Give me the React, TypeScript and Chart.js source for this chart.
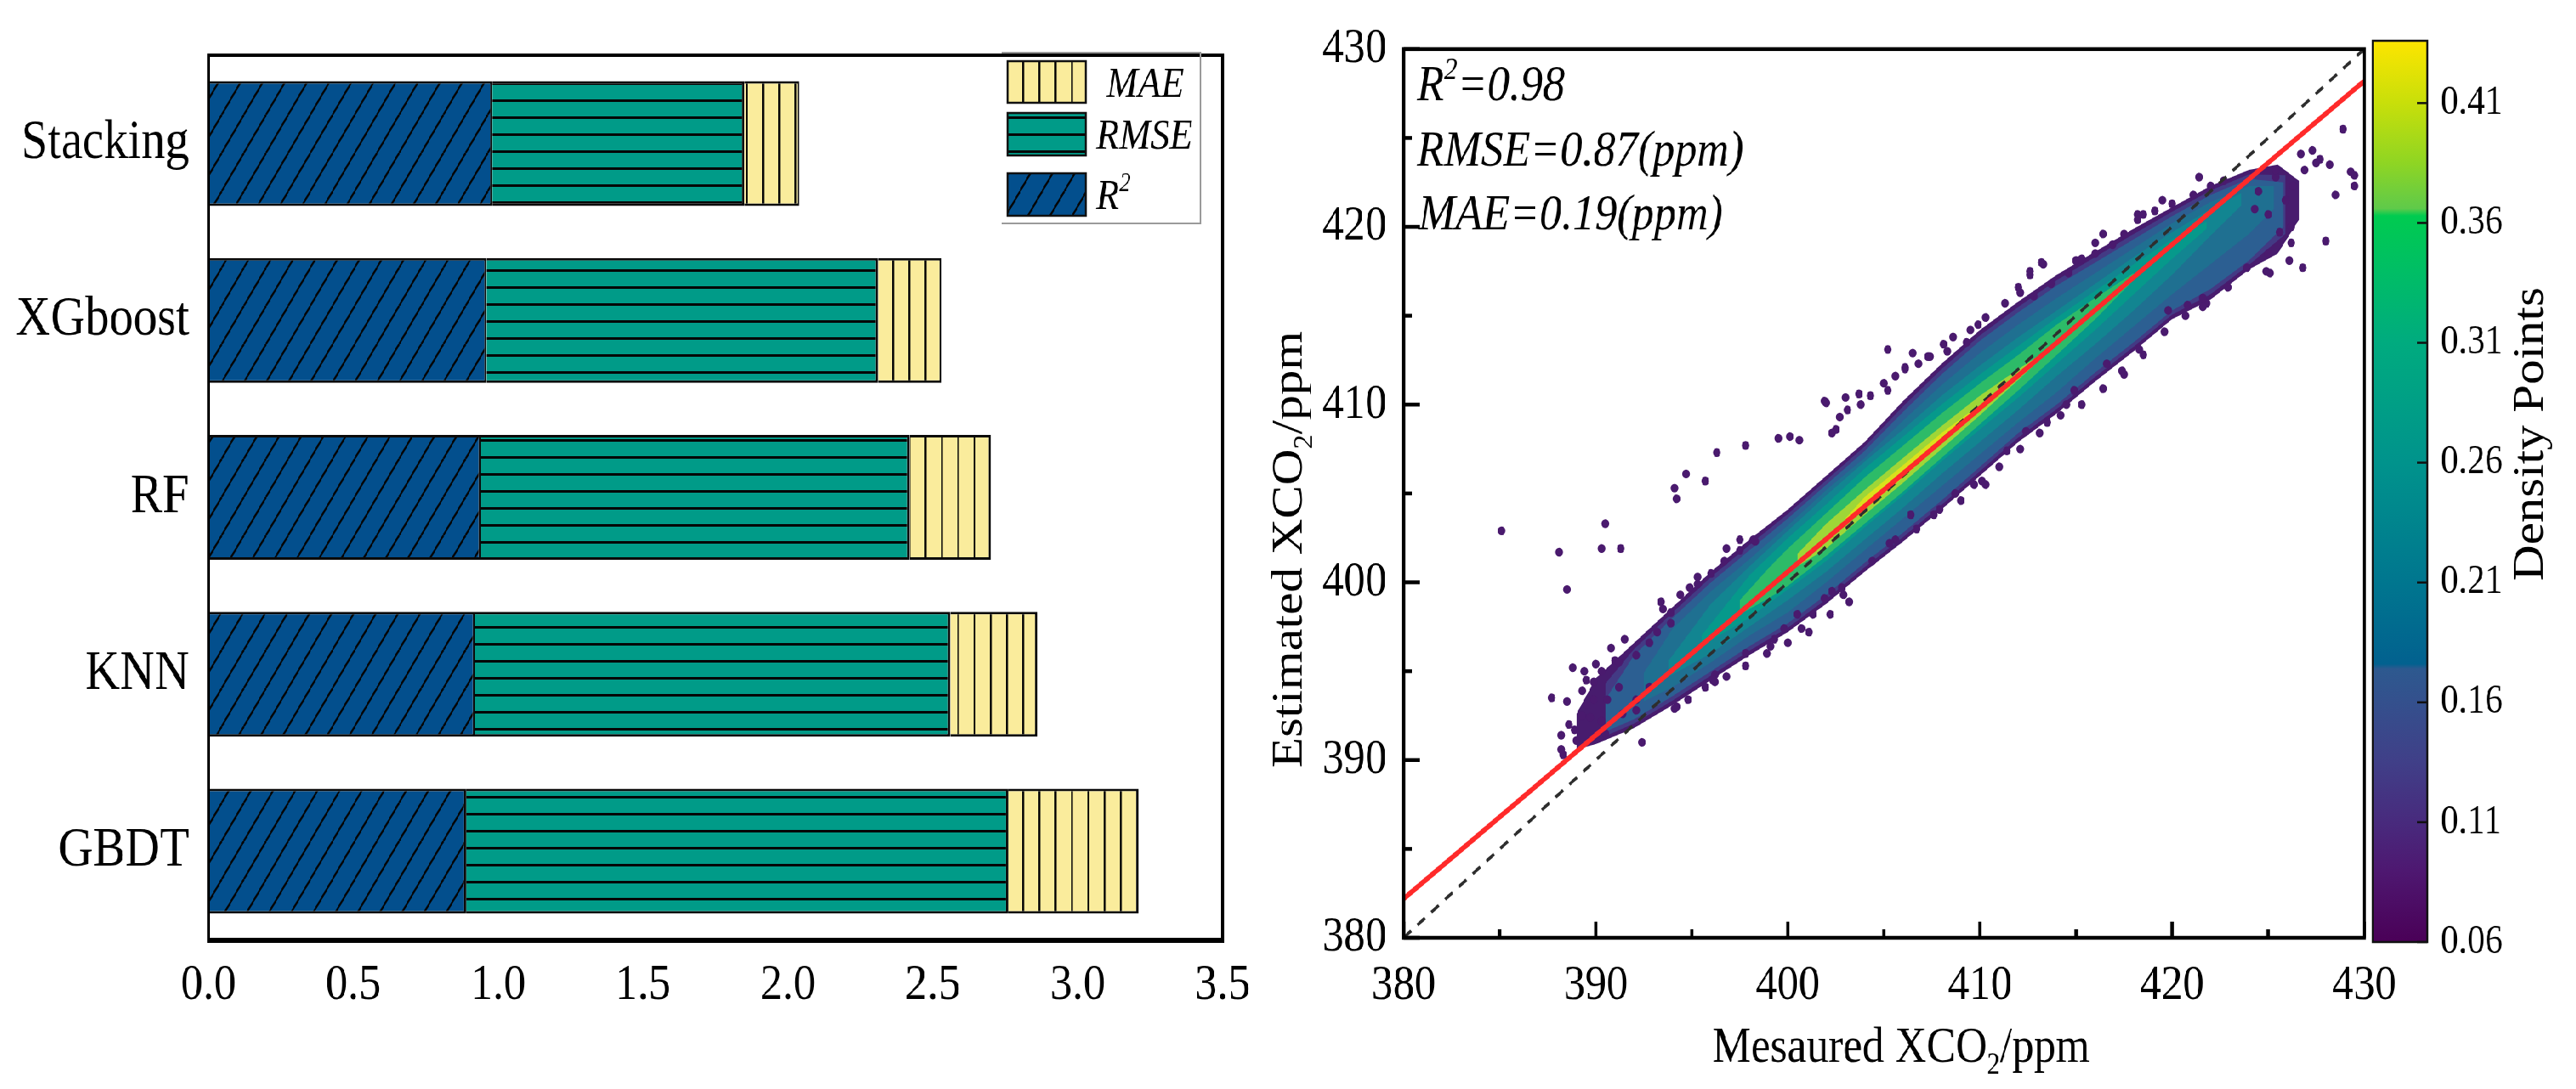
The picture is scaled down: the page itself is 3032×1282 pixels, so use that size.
import React, { useEffect, useRef } from 'react';
import { Chart, registerables } from 'chart.js';

Chart.register(...registerables);

// ---------------- data : left panel ----------------
const models = ['Stacking', 'XGboost', 'RF', 'KNN', 'GBDT'];
const r2Values = [0.98, 0.96, 0.94, 0.92, 0.89];
const rmseValues = [0.87, 1.35, 1.48, 1.64, 1.87];
const maeValues = [0.19, 0.22, 0.28, 0.3, 0.45];
const barAxisTicks = [0, 0.5, 1.0, 1.5, 2.0, 2.5, 3.0, 3.5];

// ---------------- data : right panel ----------------
const xco2MajorTicks = [380, 390, 400, 410, 420, 430];
const xco2MinorTicks = [385, 395, 405, 415, 425];
const fitLine = [[380, 382.2], [430, 428.2]];
const identityLine = [[380, 380], [430, 430]];
const statR2 = '0.98';
const statRMSE = '0.87';
const statMAE = '0.19';

// density contour bands: [measured x, upper estimated y, lower estimated y]
const bandPurple = [
  [389.0, 392.6, 390.6], [390, 394.6, 390.9], [392, 396.6, 391.8], [394, 398.6, 393.1],
  [396, 400.6, 394.5], [398, 402.4, 395.9], [400, 404.1, 397.2], [402, 406.0, 398.8],
  [404, 407.9, 400.6], [406, 410.2, 402.3], [408, 412.3, 404.1], [410, 414.2, 406.0],
  [412, 415.8, 407.9], [414, 417.3, 409.5], [416, 418.6, 411.3], [418, 419.9, 413.0],
  [420, 421.1, 414.8], [422, 422.3, 415.9], [424, 423.2, 417.6], [425.5, 423.5, 418.5],
  [426.6, 422.6, 420.4],
];
const bandIndigo = [
  [390.5, 394.3, 391.35], [392, 396.25, 392.05], [394, 398.3, 393.35], [396, 400.3, 394.75],
  [398, 402.1, 396.15], [400, 403.85, 397.45], [402, 405.75, 399.05], [404, 407.65, 400.85],
  [406, 409.9, 402.55], [408, 412.0, 404.35], [410, 413.9, 406.25], [412, 415.5, 408.15],
  [414, 417.0, 409.75], [416, 418.3, 411.55], [418, 419.6, 413.25], [420, 420.85, 415.05],
  [422, 422.05, 416.2], [424, 422.95, 417.85], [425.9, 422.9, 419.6],
];
const bandBlue = [
  [390.5, 393.4, 391.6], [392, 395.9, 392.3], [394, 398.0, 393.6], [396, 400.0, 395.0],
  [398, 401.8, 396.4], [400, 403.6, 397.7], [402, 405.5, 399.3], [404, 407.4, 401.1],
  [406, 409.6, 402.8], [408, 411.7, 404.6], [410, 413.6, 406.5], [412, 415.2, 408.4],
  [414, 416.7, 410.0], [416, 418.0, 411.8], [418, 419.3, 413.5], [420, 420.6, 415.3],
  [422, 421.8, 416.5], [424, 422.7, 418.1], [425.8, 422.5, 420.0],
];
const bandBlueTeal = [
  [392.5, 394.9, 393.3], [394, 397.4, 394.1], [396, 399.5, 395.5], [398, 401.3, 397.0],
  [400, 403.2, 398.3], [402, 405.2, 400.0], [404, 407.0, 401.8], [406, 409.1, 403.6],
  [408, 411.1, 405.4], [410, 412.9, 407.2], [412, 414.5, 409.0], [414, 416.0, 410.7],
  [416, 417.4, 412.6], [418, 418.8, 414.4], [420, 420.2, 416.2], [422, 421.4, 417.9],
  [424, 422.3, 419.6], [425.3, 422.3, 421.0],
];
const bandTealBlue = [
  [393.8, 395.6, 394.7], [396, 398.8, 396.0], [398, 400.9, 397.5], [400, 402.9, 399.0],
  [402, 404.9, 400.6], [404, 406.8, 402.4], [406, 408.6, 404.2], [408, 410.5, 406.1],
  [410, 412.2, 407.9], [412, 413.8, 409.7], [414, 415.3, 411.6], [416, 416.8, 413.4],
  [418, 418.3, 415.3], [420, 419.7, 417.3], [422, 421.0, 419.5], [423.6, 421.9, 421.2],
];
const bandTeal = [
  [395.5, 397.0, 396.4], [398, 400.4, 398.0], [400, 402.5, 399.6], [402, 404.4, 401.2],
  [404, 406.4, 403.1], [406, 408.2, 404.9], [408, 410.0, 406.8], [410, 411.7, 408.6],
  [412, 413.3, 410.4], [414, 414.9, 412.3], [416, 416.4, 414.2], [418, 417.9, 416.2],
  [420, 419.3, 418.2], [421.8, 420.3, 419.9],
];
const bandGreen = [
  [397.5, 399.0, 398.2], [399, 400.8, 399.1], [400, 401.9, 399.8], [402, 403.9, 401.5],
  [404, 405.9, 403.3], [406, 407.7, 405.1], [408, 409.5, 407.0], [410, 411.2, 408.9],
  [412, 412.8, 410.8], [414, 414.5, 412.8], [416, 416.0, 414.8], [418, 417.4, 417.0],
];
const bandYellowGreen = [
  [400.5, 401.6, 400.9], [402, 403.3, 401.9], [404, 405.2, 403.8], [406, 407.0, 405.6],
  [408, 408.8, 407.5], [410, 410.5, 409.4], [412, 412.0, 411.4], [413, 412.7, 412.4],
];
const bandYellow = [
  [403, 403.6, 403.3], [404, 404.8, 404.1], [406, 406.6, 405.9], [408, 408.4, 407.8],
  [409.5, 409.6, 409.3],
];

// isolated / fringe low-density points [measured, estimated]
const outlierPoints = [
  [385.1, 402.9], [388.1, 401.7], [388.5, 399.6], [390.3, 401.9], [391.3, 401.9], [390.5, 403.3],
  [387.7, 393.5], [388.3, 390.3], [388.2, 391.4], [388.8, 395.2], [389.3, 393.9], [388.5, 393.3],
  [388.6, 392.0], [388.9, 391.7], [389.0, 391.1], [389.3, 392.5], [389.9, 393.4], [389.7, 392.4],
  [390.5, 391.5], [391.0, 395.6], [389.9, 394.4], [391.5, 396.8], [388.2, 390.6], [390.0, 395.4],
  [389.4, 395.0], [390.8, 396.3],
  [389.5, 394.5], [390.3, 395.0], [391.2, 395.5], [392.1, 395.9], [392.8, 396.6], [393.2, 397.2],
  [393.9, 397.7], [392.1, 393.4], [392.8, 394.1], [391.2, 394.1], [390.6, 393.4], [389.5, 393.1],
  [390.3, 392.2], [391.4, 392.6], [392.1, 392.8],
  [394.8, 393.4], [395.7, 394.1], [396.8, 394.7], [397.8, 395.3], [398.9, 396.0], [400.0, 396.6],
  [401.1, 397.2], [402.2, 398.2], [403.2, 398.9],
  [393.5, 398.5], [394.4, 399.3], [395.3, 399.9], [396.0, 400.5], [396.7, 401.2], [397.5, 401.8],
  [398.2, 402.4],
  [393.4, 398.9], [393.9, 398.3], [394.9, 399.7], [395.3, 400.3], [396.8, 401.9], [397.5, 402.4],
  [398.3, 402.3], [394.1, 405.3], [394.2, 404.7], [394.7, 406.1], [395.7, 405.7], [396.3, 407.3],
  [397.8, 407.7], [399.5, 408.1], [400.1, 408.2], [400.6, 408.0], [401.9, 410.2], [403.0, 410.4],
  [402.0, 410.1], [402.5, 408.6], [403.7, 410.6], [405.0, 411.2], [405.2, 413.1], [406.5, 412.9],
  [407.3, 412.7], [406.1, 412.1], [408.1, 413.4], [408.6, 413.8], [409.9, 414.5], [410.3, 414.9],
  [412.0, 416.6], [412.6, 417.3], [413.3, 417.9], [412.6, 417.5], [413.2, 418.0], [415.0, 418.1],
  [416.0, 419.1], [416.4, 419.6], [418.2, 420.7], [418.5, 420.7], [419.5, 421.5], [421.4, 422.8],
  [409.5, 414.2], [409.3, 413.5], [408.3, 413.0], [407.4, 412.7], [406.8, 412.3], [406.1, 412.0],
  [405.6, 411.6], [405.2, 410.8], [404.3, 410.5], [403.8, 410.0], [403.1, 409.7], [402.7, 409.3],
  [402.3, 408.4], [411.3, 415.7], [412.1, 416.3], [412.8, 416.1], [413.7, 416.8], [414.6, 417.4],
  [415.3, 418.2], [416.0, 418.5], [416.9, 419.0], [417.5, 419.6], [418.2, 420.4], [419.1, 420.9],
  [420.0, 421.3], [421.1, 421.8], [422.0, 422.3], [422.7, 422.6],
  [426.9, 423.2], [426.7, 424.1], [427.3, 424.3], [427.5, 423.6], [428.2, 423.5], [427.7, 423.8],
  [428.9, 425.5], [429.3, 423.1], [429.5, 422.3], [429.5, 422.9], [428.5, 421.8], [426.2, 420.0],
  [425.6, 419.7], [428.0, 419.2], [426.2, 419.1], [426.8, 417.7], [426.1, 418.1], [425.1, 417.4],
  [424.9, 417.5], [424.5, 422.0], [425.4, 422.8], [425.9, 421.5], [425.0, 420.7], [426.3, 422.3],
  [425.4, 423.2], [424.3, 421.0],
  [405.6, 402.4], [406.7, 403.0], [407.9, 404.1], [409.0, 404.6], [410.1, 405.7], [411.0, 406.5],
  [412.1, 407.5], [413.1, 408.4], [414.2, 409.4], [415.3, 410.0], [416.4, 410.9], [417.5, 411.7],
  [418.5, 412.8], [419.6, 414.1], [420.7, 415.0], [421.8, 415.7], [422.9, 416.6], [423.9, 417.7],
  [425.0, 418.5],
  [421.6, 415.5], [421.6, 416.0], [420.8, 415.6], [419.8, 415.3], [418.3, 413.1], [417.4, 411.9],
  [416.6, 412.3], [414.9, 410.8], [414.5, 410.0], [413.5, 409.0], [412.4, 408.5], [411.4, 407.4],
  [410.3, 405.5], [409.7, 405.5], [408.7, 405.0], [407.6, 403.8], [406.4, 403.8], [405.3, 402.2],
  [404.4, 401.2], [402.8, 399.7], [402.9, 399.3], [402.3, 399.5], [401.9, 399.1], [401.3, 398.2],
  [400.5, 398.2], [400.7, 397.4], [399.8, 397.4], [399.3, 396.8], [399.1, 396.4], [397.8, 396.0],
  [396.2, 394.4], [396.2, 394.8], [396.1, 394.5], [394.2, 393.0], [394.1, 392.9], [392.4, 391.0],
];

// colour bar
const colorbarTicks = [0.06, 0.11, 0.16, 0.21, 0.26, 0.31, 0.36, 0.41];
const colorbarMin = 0.06;
const colorbarMax = 0.436;
const colorbarStopValues = [0.06, 0.09, 0.11, 0.135, 0.16, 0.174, 0.176, 0.21, 0.26, 0.31, 0.34, 0.363, 0.366, 0.385, 0.41, 0.436];
const colorbarStopColors = ['#4a0057', '#4e1871', '#482a7d', '#403f88', '#34508d', '#2d598f', '#02618f', '#00768f', '#00938c', '#00ab7f', '#00be65', '#00cb50', '#5fca4a', '#8fd523', '#c8df0a', '#fde500'];

// ---------------- styles ----------------
const SQ = 0.87; // horizontal compression of the whole figure
const FONT = "'Liberation Serif', 'Times New Roman', Times, serif";
const COLOR_R2 = '#034f8d';
const COLOR_RMSE = '#009b88';
const COLOR_MAE = '#faec9c';
const densityBands = [bandYellow, bandYellowGreen, bandGreen, bandTeal, bandTealBlue, bandBlueTeal, bandBlue, bandIndigo, bandPurple];
const densityBandColors = ['#d9e11c', '#9ed637', '#2dbb68', '#06998b', '#128591', '#1f7091', '#2c5f92', '#433a84', '#481c6e'];

type Part = { t: string; sub?: boolean; sup?: boolean };

function drawRich(ctx: any, parts: Part[], x: number, y: number, size: number, italic: boolean, align: 'left' | 'center' = 'left') {
  const fontFor = (p: Part) => `${italic ? 'italic ' : ''}${p.sub || p.sup ? Math.round(size * 0.6) : size}px ${FONT}`;
  ctx.textAlign = 'left';
  ctx.textBaseline = 'alphabetic';
  let total = 0;
  for (const p of parts) {
    ctx.font = fontFor(p);
    total += ctx.measureText(p.t).width;
  }
  let cx = align === 'center' ? x - total / 2 : x;
  for (const p of parts) {
    ctx.font = fontFor(p);
    const dy = p.sub ? size * 0.24 : p.sup ? -size * 0.42 : 0;
    ctx.fillText(p.t, cx, y + dy);
    cx += ctx.measureText(p.t).width;
  }
}

function makePattern(kind: string, bg: string): any {
  const c = document.createElement('canvas');
  const dims = kind === 'diag' ? [30, 45] : kind === 'horiz' ? [10, 20] : [22, 10];
  c.width = dims[0];
  c.height = dims[1];
  const g = c.getContext('2d');
  if (!g) return bg;
  g.fillStyle = bg;
  g.fillRect(0, 0, c.width, c.height);
  g.strokeStyle = '#050505';
  g.fillStyle = '#050505';
  if (kind === 'diag') {
    g.lineWidth = 2.4;
    for (const off of [-30, 0, 30]) {
      g.beginPath();
      g.moveTo(off, 45);
      g.lineTo(off + 30, 0);
      g.stroke();
    }
  } else if (kind === 'horiz') {
    g.fillRect(0, 17, c.width, 3);
  } else {
    g.fillRect(19, 0, 2.5, c.height);
  }
  return g.createPattern(c, 'repeat') || bg;
}

const toPolygon = (rows: number[][]) => [
  ...rows.map((r) => ({ x: r[0], y: r[1] })),
  ...rows.map((r) => ({ x: r[0], y: r[2] })).reverse(),
];

export default function App() {
  const barRef = useRef<HTMLCanvasElement>(null);
  const scatRef = useRef<HTMLCanvasElement>(null);
  const cbRef = useRef<HTMLCanvasElement>(null);

  useEffect(() => {
    const charts: Chart[] = [];
    const patR2 = makePattern('diag', COLOR_R2);
    const patRMSE = makePattern('horiz', COLOR_RMSE);
    const patMAE = makePattern('vert', COLOR_MAE);

    // ---------- left: stacked horizontal bars ----------
    const barDeco = {
      id: 'barDeco',
      afterDraw(chart: any) {
        const { ctx, chartArea: a } = chart;
        ctx.save();
        ctx.strokeStyle = '#000';
        ctx.lineWidth = 4;
        ctx.strokeRect(a.left, a.top, a.right - a.left, a.bottom - a.top);
        ctx.lineWidth = 6;
        ctx.beginPath();
        ctx.moveTo(a.left - 2, a.bottom + 1);
        ctx.lineTo(a.right + 2, a.bottom + 1);
        ctx.stroke();
        // legend
        ctx.strokeStyle = '#9a9a9a';
        ctx.lineWidth = 2;
        ctx.beginPath();
        ctx.moveTo(1355, 62);
        ctx.lineTo(1624, 62);
        ctx.lineTo(1624, 263);
        ctx.lineTo(1355, 263);
        ctx.stroke();
        const items = [
          { pat: patMAE, y0: 72, y1: 121, tx: 1497, parts: [{ t: 'MAE' }] as Part[] },
          { pat: patRMSE, y0: 133, y1: 183, tx: 1483, parts: [{ t: 'RMSE' }] as Part[] },
          { pat: patR2, y0: 204, y1: 254, tx: 1483, parts: [{ t: 'R' }, { t: '2', sup: true }] as Part[] },
        ];
        for (const it of items) {
          ctx.fillStyle = it.pat;
          ctx.fillRect(1363, it.y0, 106, it.y1 - it.y0);
          ctx.strokeStyle = '#111';
          ctx.lineWidth = 2.5;
          ctx.strokeRect(1363, it.y0, 106, it.y1 - it.y0);
          ctx.fillStyle = '#000';
          drawRich(ctx, it.parts, it.tx, (it.y0 + it.y1) / 2 + 17, 51, true);
        }
        ctx.restore();
      },
    };

    if (barRef.current) {
      const common = { borderColor: '#0a0a0a', borderWidth: 3, borderSkipped: 'start' as const };
      charts.push(
        new Chart(barRef.current, {
          type: 'bar',
          data: {
            labels: models,
            datasets: [
              { label: 'R²', data: r2Values, backgroundColor: patR2, ...common },
              { label: 'RMSE', data: rmseValues, backgroundColor: patRMSE, ...common },
              { label: 'MAE', data: maeValues, backgroundColor: patMAE, ...common },
            ],
          },
          options: {
            indexAxis: 'y',
            responsive: false,
            animation: false,
            devicePixelRatio: 1,
            events: [],
            layout: { padding: { top: 45, left: 0, right: 70, bottom: 46 } },
            datasets: { bar: { barPercentage: 0.706, categoryPercentage: 1 } },
            plugins: { legend: { display: false }, tooltip: { enabled: false } },
            scales: {
              x: {
                type: 'linear',
                stacked: true,
                min: 0,
                max: 3.5,
                afterBuildTicks: (s: any) => {
                  s.ticks = barAxisTicks.map((v) => ({ value: v }));
                },
                ticks: {
                  callback: (v: any) => Number(v).toFixed(1),
                  font: { family: FONT, size: 60 },
                  color: '#000',
                  padding: 18,
                  maxRotation: 0,
                  autoSkip: false,
                },
                grid: { display: false, drawTicks: false },
                border: { display: false },
                afterFit: (s: any) => {
                  s.height = 130;
                },
              },
              y: {
                stacked: true,
                ticks: { font: { family: FONT, size: 65 }, color: '#000', padding: 26 },
                grid: { display: false, drawTicks: false },
                border: { display: false },
                afterFit: (s: any) => {
                  s.width = 282;
                },
              },
            },
          } as any,
          plugins: [barDeco],
        })
      );
    }

    // ---------- right: density scatter ----------
    const scatterDeco = {
      id: 'scatterDeco',
      afterDraw(chart: any) {
        const { ctx, chartArea: a, scales } = chart;
        const xs = scales.x;
        const ys = scales.y;
        ctx.save();
        ctx.strokeStyle = '#000';
        ctx.lineWidth = 4.5;
        for (const v of xco2MajorTicks) {
          const px = xs.getPixelForValue(v);
          ctx.beginPath();
          ctx.moveTo(px, a.bottom);
          ctx.lineTo(px, a.bottom - 19);
          ctx.stroke();
          const py = ys.getPixelForValue(v);
          ctx.beginPath();
          ctx.moveTo(a.left, py);
          ctx.lineTo(a.left + 22, py);
          ctx.stroke();
        }
        for (const v of xco2MinorTicks) {
          const px = xs.getPixelForValue(v);
          ctx.beginPath();
          ctx.moveTo(px, a.bottom);
          ctx.lineTo(px, a.bottom - 10);
          ctx.stroke();
          const py = ys.getPixelForValue(v);
          ctx.beginPath();
          ctx.moveTo(a.left, py);
          ctx.lineTo(a.left + 11, py);
          ctx.stroke();
        }
        ctx.strokeRect(a.left, a.top, a.right - a.left, a.bottom - a.top);
        ctx.fillStyle = '#000';
        drawRich(ctx, [{ t: 'R' }, { t: '2', sup: true }, { t: '=' + statR2 }], a.left + 18, 118, 60, true);
        drawRich(ctx, [{ t: `RMSE=${statRMSE}(ppm)` }], a.left + 18, 195, 60, true);
        drawRich(ctx, [{ t: `MAE=${statMAE}(ppm)` }], a.left + 20, 270, 60, true);
        drawRich(ctx, [{ t: 'Mesaured XCO' }, { t: '2', sub: true }, { t: '/ppm' }], (a.left + a.right) / 2 + 23, 1250, 59, false, 'center');
        ctx.translate(83, 647);
        ctx.rotate(-Math.PI / 2);
        drawRich(ctx, [{ t: 'Estimated XCO' }, { t: '2', sub: true }, { t: '/ppm' }], 0, 0, 59, false, 'center');
        ctx.restore();
      },
    };

    if (scatRef.current) {
      const bandSets = densityBands.map((rows, i) => ({
        label: 'density' + i,
        data: toPolygon(rows),
        showLine: true,
        fill: 'shape',
        backgroundColor: densityBandColors[i],
        borderWidth: 0,
        pointRadius: 0,
        pointHoverRadius: 0,
      }));
      charts.push(
        new Chart(scatRef.current, {
          type: 'scatter',
          data: {
            datasets: [
              {
                label: 'fit',
                data: fitLine.map((p) => ({ x: p[0], y: p[1] })),
                showLine: true,
                borderColor: '#ff2a2a',
                borderWidth: 6,
                pointRadius: 0,
                fill: false,
              },
              {
                label: '1:1',
                data: identityLine.map((p) => ({ x: p[0], y: p[1] })),
                showLine: true,
                borderColor: '#2e2e2e',
                borderWidth: 3.8,
                borderDash: [13, 11],
                pointRadius: 0,
                fill: false,
              },
              {
                label: 'points',
                data: outlierPoints.map((p) => ({ x: p[0], y: p[1] })),
                showLine: false,
                pointRadius: 5.2,
                pointBorderWidth: 0,
                backgroundColor: '#4a1a6e',
              },
              ...bandSets,
            ],
          },
          options: {
            responsive: false,
            animation: false,
            devicePixelRatio: 1,
            events: [],
            layout: { padding: { top: 45, left: 0, right: 64, bottom: 48 } },
            plugins: { legend: { display: false }, tooltip: { enabled: false } },
            scales: {
              x: {
                type: 'linear',
                min: 380,
                max: 430,
                afterBuildTicks: (s: any) => {
                  s.ticks = xco2MajorTicks.map((v) => ({ value: v }));
                },
                ticks: { font: { family: FONT, size: 58 }, color: '#000', padding: 22, maxRotation: 0, autoSkip: false },
                grid: { display: false, drawTicks: false },
                border: { display: false },
                afterFit: (s: any) => {
                  s.height = 130;
                },
              },
              y: {
                type: 'linear',
                min: 380,
                max: 430,
                afterBuildTicks: (s: any) => {
                  s.ticks = xco2MajorTicks.map((v) => ({ value: v }));
                },
                ticks: { font: { family: FONT, size: 58 }, color: '#000', padding: 23, autoSkip: false },
                grid: { display: false, drawTicks: false },
                border: { display: false },
                afterFit: (s: any) => {
                  s.width = 221;
                },
              },
            },
          } as any,
          plugins: [scatterDeco],
        })
      );
    }

    // ---------- colour bar ----------
    const cbDeco = {
      id: 'cbDeco',
      afterDraw(chart: any) {
        const { ctx, chartArea: a, scales } = chart;
        ctx.save();
        ctx.strokeStyle = '#111';
        ctx.lineWidth = 2.5;
        for (const v of colorbarTicks) {
          const py = scales.y.getPixelForValue(v);
          ctx.beginPath();
          ctx.moveTo(a.right - 14, py);
          ctx.lineTo(a.right, py);
          ctx.stroke();
        }
        ctx.strokeRect(a.left, a.top, a.right - a.left, a.bottom - a.top);
        ctx.translate(268, 511);
        ctx.rotate(-Math.PI / 2);
        ctx.fillStyle = '#000';
        ctx.font = `59px ${FONT}`;
        ctx.textAlign = 'center';
        ctx.textBaseline = 'alphabetic';
        ctx.fillText('Density Points', 0, 0);
        ctx.restore();
      },
    };

    if (cbRef.current) {
      charts.push(
        new Chart(cbRef.current, {
          type: 'bar',
          data: {
            labels: ['density'],
            datasets: [
              {
                label: 'Density Points',
                data: [[colorbarMin, colorbarMax]],
                barPercentage: 1,
                categoryPercentage: 1,
                borderWidth: 0,
                backgroundColor: (c: any) => {
                  const chart = c.chart;
                  const y = chart.scales && chart.scales.y;
                  if (!chart.chartArea || !y) return '#888';
                  const g = chart.ctx.createLinearGradient(0, y.getPixelForValue(colorbarMin), 0, y.getPixelForValue(colorbarMax));
                  colorbarStopValues.forEach((v, i) => {
                    g.addColorStop((v - colorbarMin) / (colorbarMax - colorbarMin), colorbarStopColors[i]);
                  });
                  return g;
                },
              },
            ],
          },
          options: {
            responsive: false,
            animation: false,
            devicePixelRatio: 1,
            events: [],
            layout: { padding: { top: 48, left: 38, right: 0, bottom: 173 } },
            plugins: { legend: { display: false }, tooltip: { enabled: false } },
            scales: {
              x: { display: false },
              y: {
                position: 'right',
                min: colorbarMin,
                max: colorbarMax,
                afterBuildTicks: (s: any) => {
                  s.ticks = colorbarTicks.map((v) => ({ value: v }));
                },
                ticks: {
                  callback: (v: any) => Number(v).toFixed(2),
                  font: { family: FONT, size: 48 },
                  color: '#000',
                  padding: 18,
                  autoSkip: false,
                },
                grid: { display: false, drawTicks: false },
                border: { display: false },
                afterFit: (s: any) => {
                  s.width = 201;
                },
              },
            },
          } as any,
          plugins: [cbDeco],
        })
      );
    }

    return () => {
      charts.forEach((c) => c.destroy());
    };
  }, []);

  return (
    <div style={{ position: 'absolute', left: 0, top: 0, width: 3032, height: 1282, overflow: 'hidden', background: '#fff' }}>
      <div
        style={{
          position: 'absolute',
          left: 0,
          top: 0,
          width: Math.ceil(3032 / SQ),
          height: 1282,
          transform: `scaleX(${SQ})`,
          transformOrigin: '0 0',
        }}
      >
        <canvas ref={barRef} width={1724} height={1282} style={{ position: 'absolute', left: 0, top: 0 }} />
        <canvas ref={scatRef} width={1586} height={1282} style={{ position: 'absolute', left: 1678, top: 0 }} />
        <canvas ref={cbRef} width={313} height={1282} style={{ position: 'absolute', left: 3172, top: 0 }} />
      </div>
    </div>
  );
}
